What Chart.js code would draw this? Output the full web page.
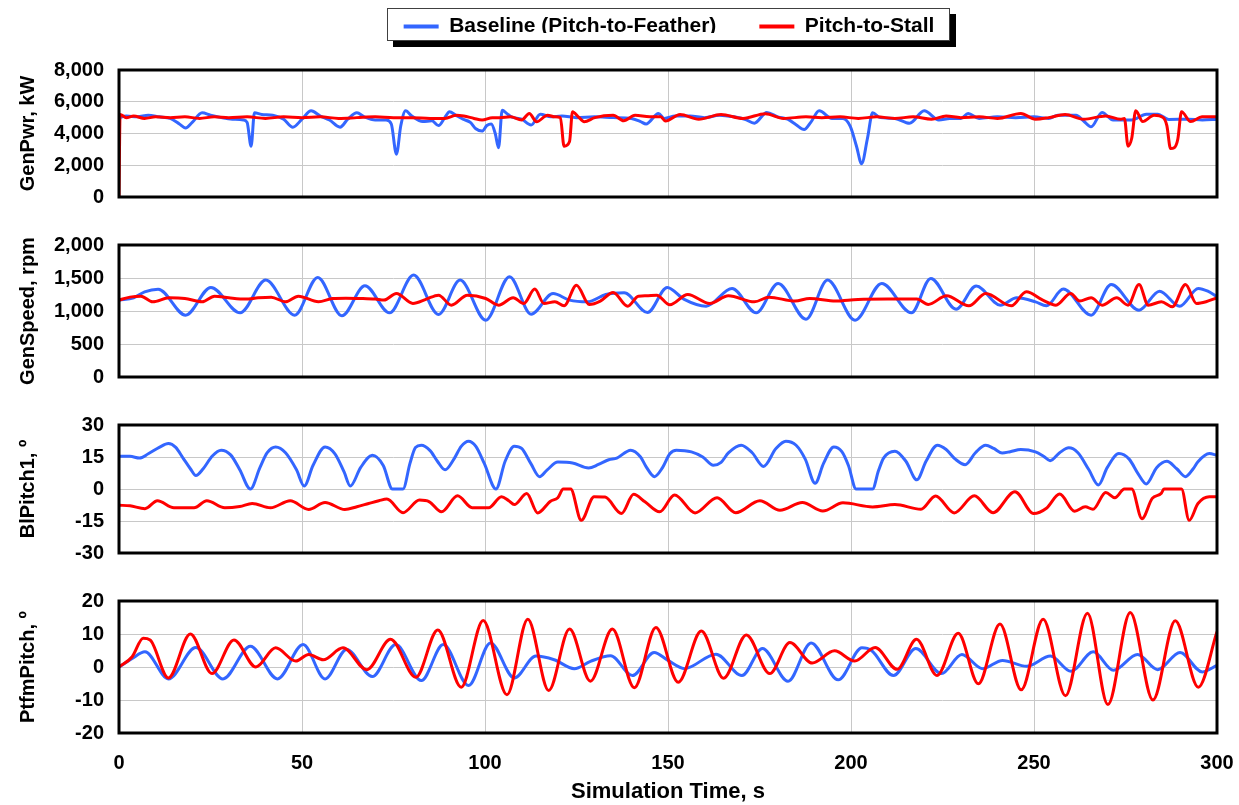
<!DOCTYPE html>
<html><head><meta charset="utf-8">
<script src="https://cdn.jsdelivr.net/npm/chart.js@4.4.1/dist/chart.umd.min.js"></script>
<style>
html,body{margin:0;padding:0;background:#fff;}
body{width:1239px;height:805px;position:relative;overflow:hidden;}
#legendBox{position:absolute;left:387px;top:8px;width:561px;height:31px;border:1px solid #404040;box-shadow:6px 6px 0 #000;background:#fff;}
#legendBox canvas{position:absolute;}
canvas.pnl{position:absolute;left:0;}
</style></head><body>
<div id="legendBox"><canvas id="lg"></canvas></div>
<canvas class="pnl" id="c1"></canvas>
<canvas class="pnl" id="c2"></canvas>
<canvas class="pnl" id="c3"></canvas>
<canvas class="pnl" id="c4"></canvas>
<script>
// ---------------- DATA (time s, value) ----------------
const seriesLabels = ['Baseline (Pitch-to-Feather)', 'Pitch-to-Stall'];
const xTicks = [0, 50, 100, 150, 200, 250, 300];

const genPwrBaseline = [[0,5000],[2,5100],[5,5050],[8,5150],[11,5050],[14,4950],[16.5,4600],[18.2,4350],[20,4700],[22.7,5300],[25,5150],[28,5000],[31,4900],[34,4850],[35,4700],[36.1,3200],[37,5300],[39,5200],[42,5150],[45,4900],[47.5,4400],[50,4900],[52.5,5430],[55,5100],[57.5,4850],[60.4,4400],[62.5,4900],[65,5300],[67,5050],[70,4850],[73,4850],[74.4,4600],[75.8,2700],[77,4500],[78.3,5430],[80,5100],[83,4750],[85.5,4800],[87.3,4500],[89,5000],[90.3,5370],[92,5150],[94,4900],[96,4700],[97.5,4300],[99.2,4150],[100.5,4500],[101.7,4600],[102.8,4000],[103.7,3100],[104.7,5470],[106,5250],[107.2,5050],[110,4900],[112.6,4530],[115.1,5220],[118,5050],[121,5100],[125,5000],[130,5050],[135,5000],[140,4950],[142.5,4750],[144,4600],[147.4,5260],[149,4950],[152,5100],[156,5100],[160,5000],[164,5150],[168,5050],[171,4900],[173.6,4650],[177,5330],[180,5050],[182.7,4900],[185,4550],[187.2,4250],[189,4700],[191.3,5430],[194.8,4950],[197.8,4950],[199.8,4450],[201.5,3200],[202.9,2100],[204.5,3700],[205.9,5300],[208,5000],[212,4950],[216,4650],[220,5430],[224,4850],[227,4950],[230,4950],[232,5260],[235,4950],[240,5050],[245,5000],[250,5050],[254,4950],[256.5,5150],[261.5,5150],[263.5,4800],[265.6,4420],[268.6,5330],[271.6,4850],[276.7,4850],[280.7,5220],[283.8,5220],[286.8,4880],[292,4900],[296,4850],[300,4900]];
const genPwrStall = [[0,0],[0.3,5200],[2,5000],[4,5100],[7,4950],[10,5050],[14,5000],[18,5050],[22,4950],[26,5050],[30,5000],[35,5050],[40,4950],[45,5050],[50,5000],[55,5050],[60,4950],[65,5000],[70,5050],[75,5000],[80,5000],[85,4950],[89,4950],[92.2,5150],[94.2,5100],[97,4950],[99.2,4850],[102,5000],[104,5000],[107,5050],[110,4850],[112.1,5260],[114.1,4740],[117.1,5150],[119,5050],[120.6,5000],[121.6,3200],[123.1,3500],[123.9,5370],[125.5,5050],[127.1,4740],[130,5000],[135,5150],[137.9,4800],[141,5150],[145,5050],[148,5050],[149.3,4780],[153.3,5200],[158.4,4900],[164.5,5200],[170.5,4950],[176.6,5250],[181.6,4950],[187.7,5050],[192,5000],[197,5050],[202,4950],[207,5050],[212,4950],[217,5050],[222,4900],[226,5100],[230,5000],[235,5050],[240,4950],[246.4,5260],[250.4,4900],[254,5000],[258.5,5200],[263.5,4900],[269.6,5100],[273.7,4900],[274.7,4950],[275.7,3200],[276.7,3700],[277.8,5430],[279.7,4750],[282.8,5150],[285.3,5000],[286.3,4500],[287.3,3050],[288.3,3100],[289.3,3650],[290.3,5370],[292.8,4750],[295.9,5050],[300,5050]];

const genSpeedBaseline = [[0,1165],[4,1200],[7,1290],[10.7,1330],[18.2,937],[25.1,1357],[33.1,972],[40.1,1468],[48,937],[54.3,1509],[60.9,927],[67.2,1382],[73.9,972],[80.5,1544],[87.3,947],[93.2,1468],[100.2,861],[106.7,1519],[112.6,952],[118.6,1266],[123.1,1165],[128,1139],[133,1250],[138,1276],[144.4,977],[149.8,1357],[154.3,1180],[160.4,1073],[167.5,1342],[174.1,972],[180.1,1418],[187.7,876],[193.6,1468],[201.1,861],[208.4,1418],[216.5,972],[221.8,1494],[228.7,1028],[234.2,1377],[240.8,1089],[245.3,1200],[250.4,1139],[253.4,1078],[258,1332],[265.6,937],[271.1,1402],[278.7,1013],[284.3,1301],[289.8,1073],[294.9,1342],[297.5,1300],[300,1215]];
const genSpeedStall = [[0,1165],[3,1210],[6,1225],[9.2,1139],[13.7,1200],[18,1190],[22.7,1139],[26.1,1225],[30,1200],[34.6,1180],[38,1200],[41.6,1210],[45.5,1139],[49,1225],[54.5,1139],[58.4,1190],[62,1195],[66,1190],[70,1180],[72.4,1165],[75.8,1266],[80.3,1114],[84,1180],[87.3,1240],[90.8,1089],[95.2,1240],[100.2,1190],[103.7,1089],[107.7,1200],[110.6,1114],[113.6,1332],[116.1,1114],[119.1,1139],[121.6,1078],[125,1392],[128.5,1099],[131.5,1150],[135,1281],[139,1073],[141.9,1225],[144,1230],[146.9,1240],[150.5,1095],[155.4,1250],[161.4,1114],[166.5,1230],[173.6,1139],[177.6,1210],[184.7,1150],[188.7,1190],[195.8,1150],[201.9,1175],[210,1180],[218,1180],[221.1,1099],[226.1,1230],[232.2,1078],[236.8,1266],[243.8,1078],[247.9,1291],[252.4,1165],[256,1089],[260,1266],[262.5,1150],[265.6,1200],[268.6,1089],[272.6,1200],[275.7,1089],[278.7,1402],[281.2,1089],[284.8,1139],[287.8,1063],[291.4,1402],[294.4,1114],[297,1140],[300,1200]];

const blPitchBaseline = [[0,15.3],[3,15.3],[5.6,14.5],[8,16.5],[11,19.5],[13.5,21.3],[15.5,19.5],[17.5,14.5],[19.5,9.5],[21,6.3],[23,9.5],[25.5,15.5],[27.9,18.2],[30.5,16],[33,9],[35.9,0],[38.5,10],[40.5,17],[42.8,19.7],[45.5,17],[48.5,9],[50.6,1.4],[53,11],[56.3,19.7],[59,16.5],[61.5,8],[63.2,1.4],[66,10],[69.2,15.8],[72.2,11],[74.7,0],[77.6,0],[79.5,12],[81,19.5],[82.6,20.5],[85,18],[87,13],[89.1,9],[91.5,14],[93.5,20],[95.5,22.4],[97.5,20],[99.8,12],[103,0],[105.5,13],[108,20],[110,19],[112.5,12],[114.9,5.8],[117,9],[119.9,12.6],[123.9,12.2],[128.3,9.8],[131,11.5],[133.8,13.7],[136,14.5],[139.8,18.2],[142.5,15],[144,10.5],[146.3,5.8],[148.5,10],[150.5,16.5],[152.3,18.2],[156.4,17.4],[159.5,15],[162.4,11.1],[164.5,12.5],[166.5,16.9],[170,20.5],[173,17],[176.1,10.6],[179.5,19],[182.2,22.4],[185,20.5],[187.5,14],[190.2,2.7],[192.5,12],[195.3,19.7],[197.5,17.5],[199.3,11],[201.4,0],[205.9,0],[207.5,8.5],[208.9,14.5],[212,17.7],[215,13],[218,4.3],[220.5,13],[223.6,20.5],[226,18.5],[228.5,14],[231.2,11.4],[234,17],[236.8,20.5],[239,19],[241.3,16.9],[243.5,17.5],[246.4,18.5],[250.4,17.4],[252.5,15.5],[254.4,13.3],[257,17],[259.5,19.3],[262,17],[265,9],[267.6,1.9],[270,10],[273.2,16.6],[276,14],[278.5,7],[280.7,2.4],[283.5,10],[286.3,13],[289,9.5],[291.4,5.8],[293.5,9.5],[294.8,12.8],[297.9,16.6],[300,15.8]];
const blPitchStall = [[0,-7.6],[3,-7.9],[7.1,-9.2],[10.5,-5.5],[15,-8.8],[20.5,-8.8],[24,-5.5],[28.9,-8.8],[33,-8.2],[36.4,-6.8],[41.4,-8.8],[46.8,-5.5],[51.8,-9.6],[56.3,-6.3],[61.7,-9.6],[65,-8.3],[68.2,-6.8],[71,-5.5],[73.2,-4.7],[77.6,-11.1],[82.1,-5.2],[84.8,-6],[88.1,-10.7],[92.5,-3.2],[96.5,-8.8],[101,-8.8],[104.5,-3.6],[106.5,-5.5],[108,-7.3],[111.4,-2.1],[114.4,-11.2],[117.9,-5.7],[119.9,-4.1],[121.4,0],[123.4,0],[126.3,-14.7],[129.8,-3.6],[132.8,-3.8],[137.3,-11.5],[140.6,-2.5],[143.7,-6],[147.7,-10.7],[151.8,-2.8],[157.4,-11.2],[163.4,-4.1],[168.5,-11.1],[175.1,-5.5],[180.6,-10],[186.7,-6.3],[192.3,-10.3],[197.8,-6.5],[205.9,-8.4],[212,-7.3],[219.1,-9.5],[223.1,-3.3],[228.2,-11.2],[233.7,-3.2],[238.8,-11.1],[244.8,-1.3],[249.9,-11.5],[253.4,-9],[257,-2.4],[261.1,-10.4],[264,-8.3],[266.1,-9.5],[269.6,-1.6],[272.1,-4.1],[274.7,0],[276.7,0],[279.5,-13.9],[282.3,-4.4],[284.8,-2],[285.5,0],[290.3,0],[292.4,-14.7],[294.8,-6.8],[297.9,-3.6],[300,-3.6]];

const ptfmPitchBaseline = [[0,0],[3.5,2.5],[7.1,4.6],[13.5,-3.6],[21,5.9],[28.4,-3.6],[35.9,6.3],[43.3,-3.6],[50.3,6.8],[56.3,-3.6],[62.2,5.3],[69.2,-2.9],[75.6,6.8],[82.6,-4.1],[88.6,6.8],[95.5,-5.6],[101.5,7.3],[108,-3.3],[113.9,3.3],[118.9,2.2],[124.4,-0.5],[128.8,1.7],[134.3,3.4],[140.3,-2.6],[146.2,4.4],[150,2],[154.5,-0.5],[163.1,3.9],[170.2,-2.6],[175.8,5.6],[182.8,-4.3],[189.1,7.3],[196.5,-3.9],[203,5.8],[205.6,5],[211.6,-2.6],[217.7,5.6],[224.7,-2],[230.3,3.8],[235.9,-0.5],[241.4,2],[248,0.2],[254.5,3.3],[260.1,-1.3],[266.2,4.6],[271.7,-1],[278.3,3.8],[283.8,-0.8],[289.9,4.4],[296,-1.5],[300,0.5]];
const ptfmPitchStall = [[0,0],[3.6,3.1],[6.6,8.7],[8.5,8.2],[13.5,-3.3],[19.5,10],[25.4,-2],[31.4,8.2],[37.4,0],[42.8,5.8],[48.3,1.8],[51.8,3.8],[55.8,2.2],[61.2,5.8],[67.7,-0.8],[74.2,8.4],[81.1,-3.1],[87.1,11.2],[93.5,-6.1],[99.5,14.1],[106,-8.4],[111.7,14.5],[117.4,-7.1],[123.1,11.5],[128.8,-4.3],[134.8,11.5],[140.8,-6.3],[146.7,12],[152.8,-4.6],[159.1,10.9],[165.2,-3.4],[171.4,9.7],[177.8,-2],[183.3,7.4],[189.4,1.2],[195.5,4.9],[201,1.8],[206.6,5.9],[212.6,-0.7],[217.9,8.4],[223.5,-2.6],[229.3,10.2],[234.8,-5.1],[240.7,13],[246.5,-6.9],[252.5,14.5],[258.6,-8.7],[264.6,16.3],[270.2,-11.4],[276.3,16.5],[282.5,-10],[288.6,14],[294.9,-6.1],[300,10.7]];

// ---------------- STYLE ----------------
const FONT = "'Liberation Sans', Arial, Helvetica, sans-serif";
const BLUE = '#3366ff', RED = '#ff0000';
const GRID = '#c8c8c8';
const pts = a => a.map(p => ({x: p[0], y: p[1]}));

const frame = {
  id: 'frame',
  afterDatasetsDraw(chart) {
    const a = chart.chartArea, c = chart.ctx;
    c.save(); c.strokeStyle = '#000'; c.lineWidth = 3;
    c.strokeRect(a.left, a.top, a.right - a.left, a.bottom - a.top);
    c.restore();
  }
};

function panel(id, areaTop, areaH, isLast, yMin, yMax, yStep, yTitle, base, stall) {
  const padTop = 15, axisH = isLast ? 72 : 0, padBottom = isLast ? 0 : 15;
  const cv = document.getElementById(id);
  cv.width = 1239; cv.height = padTop + areaH + axisH + padBottom;
  cv.style.top = (areaTop - padTop) + 'px';
  new Chart(cv, {
    type: 'line',
    data: { datasets: [
      { label: seriesLabels[1], data: pts(stall), borderColor: RED, backgroundColor: RED },
      { label: seriesLabels[0], data: pts(base), borderColor: BLUE, backgroundColor: BLUE }
    ]},
    options: {
      responsive: false, animation: false, events: [],
      layout: { padding: { top: padTop, bottom: padBottom, left: 0, right: 22 } },
      plugins: { legend: { display: false }, tooltip: { enabled: false } },
      elements: { point: { radius: 0 }, line: { borderWidth: 3, cubicInterpolationMode: 'monotone', fill: false } },
      scales: {
        x: {
          type: 'linear', min: 0, max: 300,
          afterBuildTicks: s => { s.ticks = xTicks.map(v => ({ value: v })); },
          ticks: { display: isLast, padding: 18, color: '#000', maxRotation: 0, autoSkip: false,
                   font: { family: FONT, size: 20, weight: 'bold' } },
          grid: { color: GRID, lineWidth: 1, drawTicks: false },
          border: { display: false },
          title: { display: isLast, text: 'Simulation Time, s', color: '#000',
                   font: { family: FONT, size: 22, weight: 'bold' }, padding: { top: 0, bottom: 0 } },
          afterFit: s => { s.height = axisH; s.paddingLeft = 0; s.paddingRight = 0; }
        },
        y: {
          min: yMin, max: yMax,
          ticks: { stepSize: yStep, padding: 15, color: '#000',
                   font: { family: FONT, size: 20, weight: 'bold' },
                   callback: v => Number(v).toLocaleString('en-US') },
          grid: { color: GRID, lineWidth: 1, drawTicks: false },
          border: { display: false },
          title: { display: true, text: yTitle, color: '#000',
                   font: { family: FONT, size: 20, weight: 'bold' }, padding: { top: 16, bottom: 0 } },
          afterFit: s => { s.width = 119; s.paddingTop = 0; s.paddingBottom = 0; }
        }
      }
    },
    plugins: [frame]
  });
}

panel('c1', 70, 127, false, 0, 8000, 2000, 'GenPwr, kW', genPwrBaseline, genPwrStall);
panel('c2', 245, 132, false, 0, 2000, 500, 'GenSpeed, rpm', genSpeedBaseline, genSpeedStall);
panel('c3', 425, 128, false, -30, 30, 15, 'BlPitch1, º', blPitchBaseline, blPitchStall);
panel('c4', 601, 132, true, -20, 20, 10, 'PtfmPitch, º', ptfmPitchBaseline, ptfmPitchStall);

// ---------------- LEGEND ----------------
(function () {
  const cv = document.getElementById('lg');
  cv.width = 700; cv.height = 120;
  cv.style.left = Math.round((561 - 700) / 2) + 'px';
  cv.style.top = '-36px';
  new Chart(cv, {
    type: 'line',
    data: { datasets: [
      { label: seriesLabels[0], data: [], borderColor: BLUE, backgroundColor: BLUE, borderWidth: 0 },
      { label: seriesLabels[1], data: [], borderColor: RED, backgroundColor: RED, borderWidth: 0 }
    ]},
    options: {
      responsive: false, animation: false, events: [],
      layout: { padding: 0 },
      scales: { x: { display: false }, y: { display: false } },
      plugins: {
        tooltip: { enabled: false },
        legend: { display: true, position: 'top', align: 'center',
          labels: { boxWidth: 35, boxHeight: 4, padding: 43, color: '#000',
                    font: { family: FONT, size: 21, weight: 'bold' } } }
      }
    }
  });
})();
</script>
</body></html>
